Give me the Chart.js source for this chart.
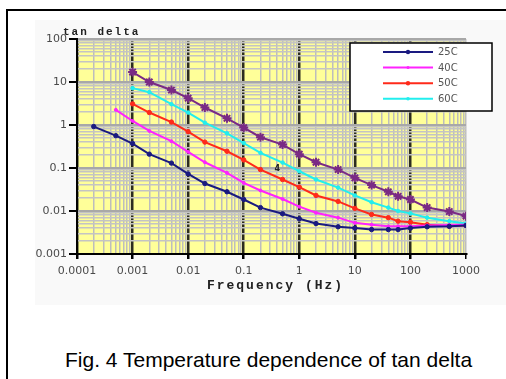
<!DOCTYPE html>
<html>
<head>
<meta charset="utf-8">
<script src="https://cdn.jsdelivr.net/npm/chart.js@4.4.1/dist/chart.umd.min.js"></script>
<style>
  html, body { margin: 0; padding: 0; background: #fff; width: 506px; height: 379px; overflow: hidden; }
  #frame { position: absolute; left: 6px; top: 9px; width: 540px; height: 420px; border: 2px solid #000; }
  #wrap { position: absolute; left: 35px; top: 20px; width: 471px; height: 285px; background: #f9f9f9; }
  #caption { position: absolute; left: 65px; top: 349px; font: 21px "Liberation Sans", Arial, sans-serif; line-height: 21px; color: #000; white-space: nowrap; }
</style>
</head>
<body>
<div id="frame"></div>
<div id="wrap"><canvas id="myChart" width="471" height="285"></canvas></div>
<div id="caption">Fig. 4 Temperature dependence of tan delta</div>
<script>
// measurement frequencies (Hz)
var freqs = [0.0002, 0.0005, 0.001, 0.002, 0.005, 0.01, 0.02, 0.05, 0.1, 0.2, 0.5, 1, 2, 5, 10, 20, 40, 60, 100, 200, 500, 1000];

// tan delta per temperature, null where not measured
var tan25 = [0.92, 0.565, 0.37, 0.21, 0.13, 0.073, 0.0435, 0.028, 0.0185, 0.012, 0.0086, 0.0066, 0.0051, 0.0043, 0.0040, 0.0037, 0.0037, 0.0037, 0.0040, 0.0043, 0.0044, 0.0046];
var tan40 = [null, 2.25, 1.24, 0.73, 0.42, 0.238, 0.136, 0.077, 0.045, 0.030, 0.019, 0.0126, 0.0091, 0.0070, 0.0053, 0.0048, 0.0044, 0.0044, 0.0044, 0.0046, 0.0047, 0.0048];
var tan50 = [null, null, 3.1, 1.95, 1.17, 0.70, 0.40, 0.245, 0.154, 0.092, 0.054, 0.036, 0.023, 0.0167, 0.0115, 0.0083, 0.0070, 0.0058, 0.0055, 0.0048, 0.0044, 0.0046];
var tan60 = [null, null, 7.2, 5.8, 3.05, 1.95, 1.13, 0.64, 0.38, 0.225, 0.134, 0.084, 0.054, 0.035, 0.023, 0.016, 0.012, 0.010, 0.0088, 0.0070, 0.0058, 0.0051];
var tanTop = [null, null, 17, 10, 6.5, 4.2, 2.55, 1.43, 0.87, 0.52, 0.35, 0.21, 0.136, 0.092, 0.059, 0.040, 0.028, 0.022, 0.0185, 0.012, 0.0097, 0.0076];

// decade tick labels
var xTickLabels = ['0.0001', '0.001', '0.01', '0.1', '1', '10', '100', '1000'];
var yTickLabels = ['0.001', '0.01', '0.1', '1', '10', '100'];

var xMin = 0.0001, xMax = 1000, yMin = 0.001, yMax = 100;

function points(vals) {
  var out = [];
  for (var i = 0; i < freqs.length; i++) {
    if (vals[i] !== null) out.push({x: freqs[i], y: vals[i]});
  }
  return out;
}

function isDecade(v) {
  var l = Math.log10(v);
  return Math.abs(l - Math.round(l)) < 1e-6;
}

// 1..9 x 10^n grid values between min and max
function logGrid(min, max) {
  var vals = [];
  for (var e = Math.round(Math.log10(min)); e < Math.round(Math.log10(max)); e++) {
    for (var s = 1; s <= 9; s++) vals.push(s * Math.pow(10, e));
  }
  vals.push(max);
  return vals.map(function (v) { return {value: v}; });
}

var plotBackground = {
  id: 'plotBackground',
  beforeDraw: function (chart) {
    var a = chart.chartArea, c = chart.ctx;
    c.save();
    c.fillStyle = '#ffff99';
    c.fillRect(a.left, a.top, a.right - a.left, a.bottom - a.top);
    c.restore();
  }
};

var extras = {
  id: 'extras',
  afterDraw: function (chart) {
    var a = chart.chartArea, c = chart.ctx;
    c.save();
    // axis titles
    c.fillStyle = '#222';
    c.letterSpacing = '2px';
    c.font = 'bold 11px "Liberation Mono", "Courier New", monospace';
    c.textAlign = 'left';
    c.textBaseline = 'alphabetic';
    c.fillText('tan delta', a.left - 14, a.top - 4);
    c.font = 'bold 13px "Liberation Mono", "Courier New", monospace';
    c.textAlign = 'center';
    c.fillText('Frequency (Hz)', (a.left + a.right) / 2 + 4, a.bottom + 35);
    c.letterSpacing = '0px';
    c.font = 'bold 8px "DejaVu Sans"';
    c.fillText('4', chart.scales.x.getPixelForValue(0.4), chart.scales.y.getPixelForValue(0.1) + 3);

    // legend box
    var bx = a.right - 116, by = a.top + 4, bw = 142, bh = 68;
    c.fillStyle = '#fff';
    c.fillRect(bx, by, bw, bh);
    c.strokeStyle = '#000';
    c.lineWidth = 1.5;
    c.strokeRect(bx, by, bw, bh);
    c.font = '10px "DejaVu Sans"';
    c.textAlign = 'left';
    c.textBaseline = 'middle';
    chart.data.datasets.forEach(function (ds, i) {
      if (!ds.inLegend) return;
      var y = by + 9 + i * 15.6;
      c.strokeStyle = ds.borderColor;
      c.lineWidth = 2;
      c.beginPath();
      c.moveTo(bx + 33, y);
      c.lineTo(bx + 83, y);
      c.stroke();
      c.fillStyle = ds.borderColor;
      c.beginPath();
      c.arc(bx + 58, y, ds.pointRadius, 0, Math.PI * 2);
      c.fill();
      c.fillStyle = '#555';
      c.fillText(ds.label, bx + 88, y + 0.5);
    });
    c.restore();
  }
};

function series(label, vals, color, radius, style, inLegend) {
  return {
    label: label,
    data: points(vals),
    borderColor: color,
    backgroundColor: color,
    borderWidth: 2,
    pointRadius: radius,
    pointStyle: style,
    pointBorderWidth: style === 'star' ? 2 : 1,
    tension: 0,
    inLegend: inLegend
  };
}

var ctx = document.getElementById('myChart').getContext('2d');
var myChart = new Chart(ctx, {
  type: 'line',
  data: {
    datasets: [
      series('25C', tan25, '#1a1a80', 2.2, 'circle', true),
      series('40C', tan40, '#ff22ff', 1.5, 'circle', true),
      series('50C', tan50, '#ff2a1a', 2.2, 'circle', true),
      series('60C', tan60, '#22eeee', 1.8, 'circle', true),
      series('', tanTop, '#7a2a85', 4.5, 'star', false)
    ]
  },
  options: {
    responsive: false,
    animation: false,
    layout: { padding: { left: 0, right: 40, top: 19, bottom: 0 } },
    plugins: { legend: { display: false }, tooltip: { enabled: false } },
    scales: {
      x: {
        type: 'logarithmic',
        min: xMin,
        max: xMax,
        afterBuildTicks: function (axis) { axis.ticks = logGrid(xMin, xMax); },
        afterFit: function (scale) { scale.height = 51; },
        border: { color: '#000', width: 2 },
        grid: {
          color: function (c) { return isDecade(c.tick.value) && c.tick.value < 999 ? '#2c2c20' : '#bdbdbd'; },
          lineWidth: function (c) { return isDecade(c.tick.value) && c.tick.value < 999 ? 2.5 : 1.5; },
          tickColor: function (c) { return isDecade(c.tick.value) ? '#000' : 'rgba(0,0,0,0)'; },
          tickLength: 5
        },
        ticks: {
          autoSkip: false,
          maxRotation: 0,
          padding: 6,
          color: '#4a4a4a',
          font: { family: 'DejaVu Sans', size: 11 },
          callback: function (v) {
            return isDecade(v) ? xTickLabels[Math.round(Math.log10(v)) + 4] : '';
          }
        }
      },
      y: {
        type: 'logarithmic',
        min: yMin,
        max: yMax,
        afterBuildTicks: function (axis) { axis.ticks = logGrid(yMin, yMax); },
        afterFit: function (scale) { scale.width = 42; },
        border: { color: '#000', width: 2 },
        grid: {
          color: function (c) { return isDecade(c.tick.value) ? '#a8a8a8' : '#c4c4c4'; },
          lineWidth: function (c) { return isDecade(c.tick.value) ? 2 : 1.5; },
          tickColor: function (c) { return isDecade(c.tick.value) ? '#000' : 'rgba(0,0,0,0)'; },
          tickLength: 8
        },
        ticks: {
          autoSkip: false,
          padding: 2,
          color: '#4a4a4a',
          font: { family: 'DejaVu Sans', size: 11 },
          callback: function (v) {
            return isDecade(v) ? yTickLabels[Math.round(Math.log10(v)) + 3] : '';
          }
        }
      }
    }
  },
  plugins: [plotBackground, extras]
});
</script>
</body>
</html>
